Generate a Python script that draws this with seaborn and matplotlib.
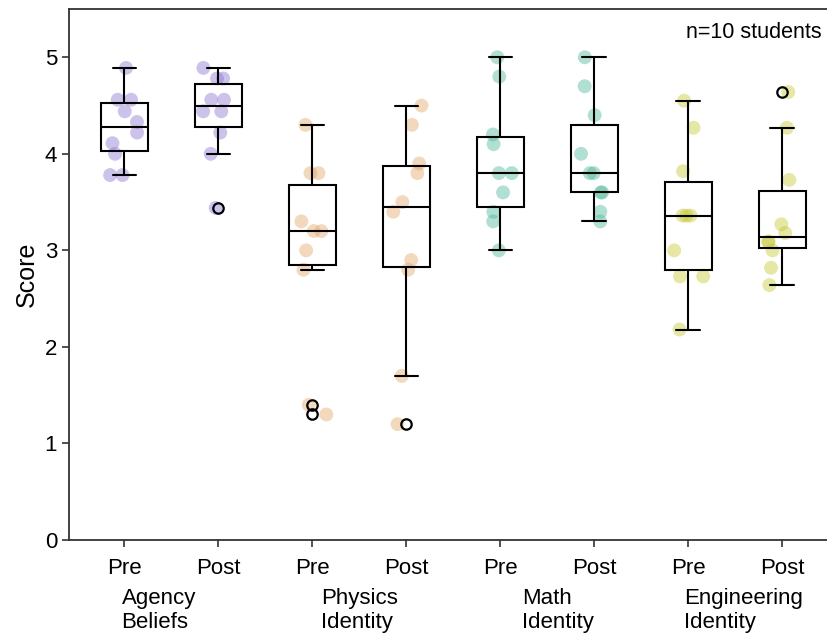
import numpy as np
import pandas as pd
import seaborn as sns
import matplotlib.pyplot as plt

groups = ["Agency\nBeliefs", "Physics\nIdentity", "Math\nIdentity", "Engineering\nIdentity"]
times = ["Pre", "Post"]

agency_pre = [4.89, 4.56, 4.56, 4.44, 4.33, 4.22, 4.11, 4.00, 3.78, 3.78]
agency_post = [4.89, 4.78, 4.78, 4.56, 4.56, 4.44, 4.44, 4.22, 4.00, 3.44]
physics_pre = [4.3, 3.8, 3.8, 3.3, 3.2, 3.2, 3.0, 2.8, 1.4, 1.3]
physics_post = [4.5, 4.3, 3.9, 3.8, 3.5, 3.4, 2.9, 2.8, 1.7, 1.2]
math_pre = [5.0, 4.8, 4.2, 4.1, 3.8, 3.8, 3.6, 3.4, 3.3, 3.0]
math_post = [5.0, 4.7, 4.4, 4.0, 3.8, 3.8, 3.6, 3.6, 3.4, 3.3]
eng_pre = [4.55, 4.27, 3.82, 3.36, 3.36, 3.36, 3.00, 2.73, 2.73, 2.18]
eng_post = [4.64, 4.27, 3.73, 3.27, 3.18, 3.09, 3.09, 3.00, 2.82, 2.64]

colors = ["#8a70cf", "#e2a463", "#45b596", "#c4c42a"]

series = [agency_pre, agency_post, physics_pre, physics_post,
          math_pre, math_post, eng_pre, eng_post]

rows = []
for i, vals in enumerate(series):
    g = groups[i // 2]
    t = times[i % 2]
    for v in vals:
        rows.append({"cond": f"{g} {t}", "group": g, "time": t, "score": v})
df = pd.DataFrame(rows)
order = [f"{g} {t}" for g in groups for t in times]

sns.set_style("ticks")
plt.rcParams['font.family'] = ['Liberation Sans', 'DejaVu Sans']
plt.rcParams['text.color'] = 'black'
plt.rcParams['axes.labelcolor'] = 'black'
plt.rcParams['xtick.color'] = 'black'
plt.rcParams['ytick.color'] = 'black'

fig = plt.figure(figsize=(8.27, 6.43), dpi=100)
ax = fig.add_axes([69 / 827, 103 / 643, 762 / 827, 531 / 643])

np.random.seed(3)
sns.stripplot(data=df, x="cond", y="score", hue="group", order=order,
              palette=colors, jitter=0.17, size=10, alpha=0.42,
              linewidth=0, legend=False, ax=ax, zorder=1)

sns.boxplot(data=df, x="cond", y="score", order=order, width=0.5,
            color="white", linecolor="black", linewidth=1.5,
            boxprops=dict(facecolor="none"),
            flierprops=dict(marker="o", markersize=7.5, markerfacecolor="none",
                            markeredgecolor="black", markeredgewidth=1.6),
            ax=ax, zorder=2)

ax.set_xlim(-0.59, 7.52)
ax.set_ylim(0, 5.5)
ax.set_yticks([0, 1, 2, 3, 4, 5])
ax.set_xticks(range(len(order)))
ax.set_xticklabels([t for g in groups for t in times])
ax.tick_params(axis="both", labelsize=16, length=5, width=1.2,
               color="#333333", labelcolor="black")
ax.tick_params(axis="x", pad=8)
ax.set_xlabel("")
ax.set_ylabel("Score", fontsize=18)
for s in ax.spines.values():
    s.set_color("#333333")
    s.set_linewidth(1.3)

# group labels below the Pre/Post ticks
label_x = [-0.03, 2.09, 4.23, 5.96]
for g, lx in zip(groups, label_x):
    ax.text(lx, -0.09, g, transform=ax.get_xaxis_transform(),
            ha="left", va="top", fontsize=16, linespacing=1.22)

ax.text(0.988, 0.975, "n=10 students", transform=ax.transAxes,
        ha="right", va="top", fontsize=15.5)

plt.savefig("out.png", dpi=100)
plt.close()
